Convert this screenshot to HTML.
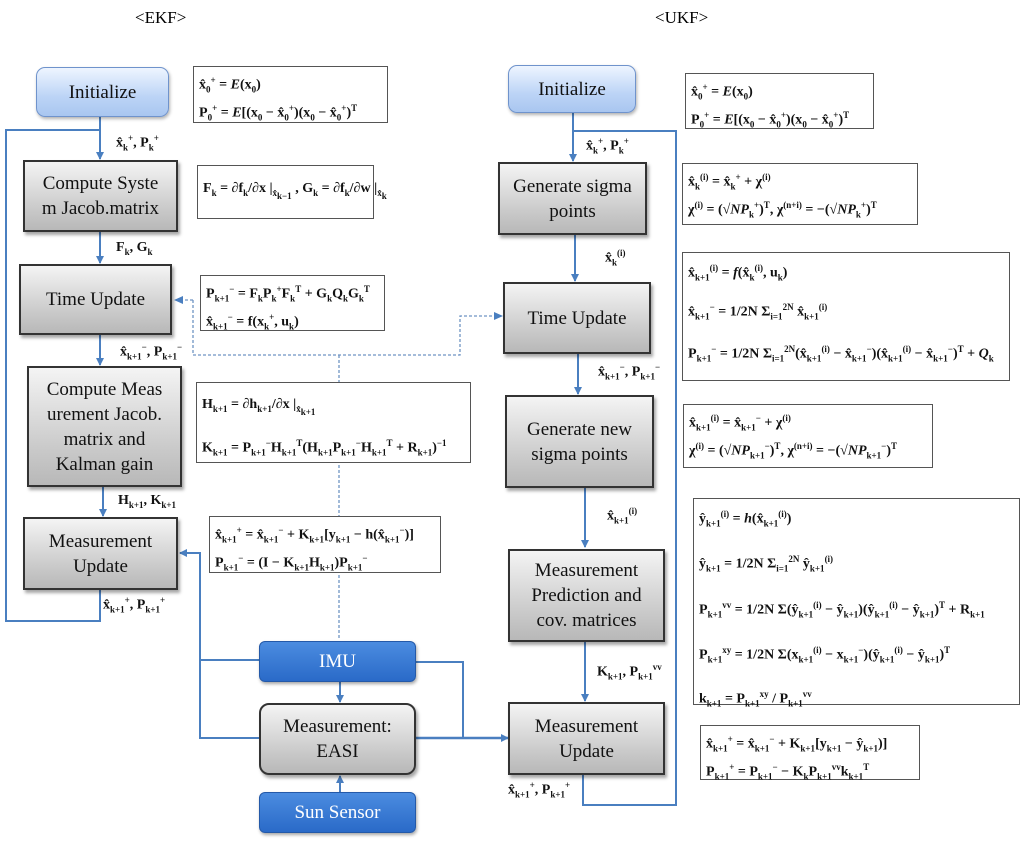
<!DOCTYPE html>
<html><head><meta charset="utf-8"><style>
body{margin:0;background:#fff;width:1024px;height:846px;position:relative;overflow:hidden;font-family:"Liberation Serif",serif;}
.a{position:absolute;}
.box{position:absolute;box-sizing:border-box;display:flex;align-items:center;justify-content:center;text-align:center;font-size:19px;line-height:25px;color:#111;}
.g{background:linear-gradient(#f4f4f4,#c9c9c9 70%,#b8b8b8);border:2px solid #333;box-shadow:2px 3px 3px rgba(0,0,0,.35);}
.lb{background:linear-gradient(#eef5ff,#bcd4f6 60%,#a9c6f0);border:1px solid #6f93cc;border-radius:9px;box-shadow:1px 2px 3px rgba(0,0,0,.3);}
.db{background:linear-gradient(#4b8ce0,#2a6ac8);border:1px solid #2459a8;border-radius:6px;color:#fff;box-shadow:1px 2px 3px rgba(0,0,0,.35);}
.eq{position:absolute;box-sizing:border-box;border:1.5px solid #555;background:#fff;font-weight:bold;font-size:14px;line-height:17px;padding:3px 5px;white-space:nowrap;color:#111;}
.eq div{margin:2px 0;}
.lab{position:absolute;font-weight:bold;font-size:14px;white-space:nowrap;color:#111;}
sub,sup{font-size:9px;}
.hd{position:absolute;font-size:17px;}
</style></head><body>
<div class="hd" style="left:135px;top:8px">&lt;EKF&gt;</div>
<div class="hd" style="left:655px;top:8px">&lt;UKF&gt;</div>

<svg class="a" style="left:0;top:0" width="1024" height="846">
<defs><marker id="ar" markerWidth="8" markerHeight="8" refX="7" refY="4" orient="auto" markerUnits="userSpaceOnUse"><path d="M0,0 L8,4 L0,8 z" fill="#4a7fc0"/></marker></defs>
<g stroke="#4a7fc0" stroke-width="2" fill="none">
<line x1="100" y1="117" x2="100" y2="159" marker-end="url(#ar)"/>
<polyline points="100,130 6,130 6,621 100,621 100,590"/>
<line x1="100" y1="232" x2="100" y2="263" marker-end="url(#ar)"/>
<line x1="100" y1="335" x2="100" y2="365" marker-end="url(#ar)"/>
<line x1="103" y1="487" x2="103" y2="516" marker-end="url(#ar)"/>
<polyline points="260,660 200,660 200,553 180,553" marker-end="url(#ar)"/>
<polyline points="200,660 200,738 260,738"/>
<polyline points="416,662 463,662 463,738"/>
<line x1="416" y1="738" x2="508" y2="738" stroke-width="2.5" marker-end="url(#ar)"/>
<line x1="340" y1="682" x2="340" y2="702" marker-end="url(#ar)"/>
<line x1="340" y1="792" x2="340" y2="776" marker-end="url(#ar)"/>
<line x1="573" y1="113" x2="573" y2="161" marker-end="url(#ar)"/>
<polyline points="573,131 676,131 676,805 583,805 583,775"/>
<line x1="575" y1="235" x2="575" y2="281" marker-end="url(#ar)"/>
<line x1="578" y1="354" x2="578" y2="394" marker-end="url(#ar)"/>
<line x1="585" y1="488" x2="585" y2="547" marker-end="url(#ar)"/>
<line x1="585" y1="642" x2="585" y2="701" marker-end="url(#ar)"/>
</g>
<g stroke="#6f94c4" stroke-width="1.3" fill="none" stroke-dasharray="3,2">
<polyline points="193,300 193,355 460,355 460,316 495,316"/>
<line x1="193" y1="300" x2="182" y2="300"/>
<line x1="339" y1="355" x2="339" y2="640"/>
</g>
<path d="M174,300 L183,296 L183,304 z" fill="#4a7fc0"/>
<path d="M503,316 L494,312 L494,320 z" fill="#4a7fc0"/>
</svg>

<div class="box lb" style="left:36px;top:67px;width:133px;height:50px">Initialize</div>
<div class="box g" style="left:23px;top:160px;width:155px;height:72px">Compute Syste<br>m Jacob.matrix</div>
<div class="box g" style="left:19px;top:264px;width:153px;height:71px">Time Update</div>
<div class="box g" style="left:27px;top:366px;width:155px;height:121px">Compute Meas<br>urement Jacob.<br>matrix and<br>Kalman gain</div>
<div class="box g" style="left:23px;top:517px;width:155px;height:73px">Measurement<br>Update</div>
<div class="box db" style="left:259px;top:641px;width:157px;height:41px">IMU</div>
<div class="box g" style="left:259px;top:703px;width:157px;height:72px;border-radius:10px">Measurement:<br>EASI</div>
<div class="box db" style="left:259px;top:792px;width:157px;height:41px">Sun Sensor</div>

<div class="box lb" style="left:508px;top:65px;width:128px;height:48px">Initialize</div>
<div class="box g" style="left:498px;top:162px;width:149px;height:73px">Generate sigma<br>points</div>
<div class="box g" style="left:503px;top:282px;width:148px;height:72px">Time Update</div>
<div class="box g" style="left:505px;top:395px;width:149px;height:93px">Generate new<br>sigma points</div>
<div class="box g" style="left:508px;top:549px;width:157px;height:93px">Measurement<br>Prediction and<br>cov. matrices</div>
<div class="box g" style="left:508px;top:702px;width:157px;height:73px">Measurement<br>Update</div>

<div class="lab" style="left:116px;top:133px">x̂<sub>k</sub><sup>+</sup>, P<sub>k</sub><sup>+</sup></div>
<div class="lab" style="left:116px;top:240px">F<sub>k</sub>, G<sub>k</sub></div>
<div class="lab" style="left:120px;top:342px">x̂<sub>k+1</sub><sup>−</sup>, P<sub>k+1</sub><sup>−</sup></div>
<div class="lab" style="left:118px;top:493px">H<sub>k+1</sub>, K<sub>k+1</sub></div>
<div class="lab" style="left:103px;top:595px">x̂<sub>k+1</sub><sup>+</sup>, P<sub>k+1</sub><sup>+</sup></div>
<div class="lab" style="left:586px;top:136px">x̂<sub>k</sub><sup>+</sup>, P<sub>k</sub><sup>+</sup></div>
<div class="lab" style="left:605px;top:248px">x̂<sub>k</sub><sup>(i)</sup></div>
<div class="lab" style="left:598px;top:362px">x̂<sub>k+1</sub><sup>−</sup>, P<sub>k+1</sub><sup>−</sup></div>
<div class="lab" style="left:607px;top:506px">x̂<sub>k+1</sub><sup>(i)</sup></div>
<div class="lab" style="left:597px;top:662px">K<sub>k+1</sub>, P<sub>k+1</sub><sup>vv</sup></div>
<div class="lab" style="left:508px;top:780px">x̂<sub>k+1</sub><sup>+</sup>, P<sub>k+1</sub><sup>+</sup></div>

<div class="eq" style="left:193px;top:66px;width:195px;height:57px"><div>x̂<sub>0</sub><sup>+</sup> = <i>E</i>(x<sub>0</sub>)</div><div>P<sub>0</sub><sup>+</sup> = <i>E</i>[(x<sub>0</sub> − x̂<sub>0</sub><sup>+</sup>)(x<sub>0</sub> − x̂<sub>0</sub><sup>+</sup>)<sup>T</sup></div></div>
<div class="eq" style="left:197px;top:165px;width:177px;height:54px;padding-top:14px">F<sub>k</sub> = ∂f<sub>k</sub>/∂x |<sub>x̂<sub>k−1</sub></sub> , G<sub>k</sub> = ∂f<sub>k</sub>/∂w |<sub>x̂<sub>k</sub></sub></div>
<div class="eq" style="left:200px;top:275px;width:185px;height:56px"><div>P<sub>k+1</sub><sup>−</sup> = F<sub>k</sub>P<sub>k</sub><sup>+</sup>F<sub>k</sub><sup>T</sup> + G<sub>k</sub>Q<sub>k</sub>G<sub>k</sub><sup>T</sup></div><div>x̂<sub>k+1</sub><sup>−</sup> = f(x<sub>k</sub><sup>+</sup>, u<sub>k</sub>)</div></div>
<div class="eq" style="left:196px;top:382px;width:275px;height:81px"><div style="margin:10px 0 14px">H<sub>k+1</sub> = ∂h<sub>k+1</sub>/∂x |<sub>x̂<sub>k+1</sub></sub></div><div>K<sub>k+1</sub> = P<sub>k+1</sub><sup>−</sup>H<sub>k+1</sub><sup>T</sup>(H<sub>k+1</sub>P<sub>k+1</sub><sup>−</sup>H<sub>k+1</sub><sup>T</sup> + R<sub>k+1</sub>)<sup>−1</sup></div></div>
<div class="eq" style="left:209px;top:516px;width:232px;height:57px"><div>x̂<sub>k+1</sub><sup>+</sup> = x̂<sub>k+1</sub><sup>−</sup> + K<sub>k+1</sub>[y<sub>k+1</sub> − h(x̂<sub>k+1</sub><sup>−</sup>)]</div><div>P<sub>k+1</sub><sup>−</sup> = (I − K<sub>k+1</sub>H<sub>k+1</sub>)P<sub>k+1</sub><sup>−</sup></div></div>

<div class="eq" style="left:685px;top:73px;width:189px;height:56px"><div>x̂<sub>0</sub><sup>+</sup> = <i>E</i>(x<sub>0</sub>)</div><div>P<sub>0</sub><sup>+</sup> = <i>E</i>[(x<sub>0</sub> − x̂<sub>0</sub><sup>+</sup>)(x<sub>0</sub> − x̂<sub>0</sub><sup>+</sup>)<sup>T</sup></div></div>
<div class="eq" style="left:682px;top:163px;width:236px;height:62px"><div>x̂<sub>k</sub><sup>(i)</sup> = x̂<sub>k</sub><sup>+</sup> + χ<sup>(i)</sup></div><div>χ<sup>(i)</sup> = (√<i>NP</i><sub>k</sub><sup>+</sup>)<sup>T</sup>, χ<sup>(n+i)</sup> = −(√<i>NP</i><sub>k</sub><sup>+</sup>)<sup>T</sup></div></div>
<div class="eq" style="left:682px;top:252px;width:328px;height:129px;line-height:20px"><div>x̂<sub>k+1</sub><sup>(i)</sup> = <i>f</i>(x̂<sub>k</sub><sup>(i)</sup>, u<sub>k</sub>)</div><div style="margin-top:10px">x̂<sub>k+1</sub><sup>−</sup> = 1/2N Σ<sub>i=1</sub><sup>2N</sup> x̂<sub>k+1</sub><sup>(i)</sup></div><div style="margin-top:12px">P<sub>k+1</sub><sup>−</sup> = 1/2N Σ<sub>i=1</sub><sup>2N</sup>(x̂<sub>k+1</sub><sup>(i)</sup> − x̂<sub>k+1</sub><sup>−</sup>)(x̂<sub>k+1</sub><sup>(i)</sup> − x̂<sub>k+1</sub><sup>−</sup>)<sup>T</sup> + <i>Q</i><sub>k</sub></div></div>
<div class="eq" style="left:683px;top:404px;width:250px;height:64px"><div>x̂<sub>k+1</sub><sup>(i)</sup> = x̂<sub>k+1</sub><sup>−</sup> + χ<sup>(i)</sup></div><div>χ<sup>(i)</sup> = (√<i>NP</i><sub>k+1</sub><sup>−</sup>)<sup>T</sup>, χ<sup>(n+i)</sup> = −(√<i>NP</i><sub>k+1</sub><sup>−</sup>)<sup>T</sup></div></div>
<div class="eq" style="left:693px;top:498px;width:327px;height:207px;line-height:20px"><div>ŷ<sub>k+1</sub><sup>(i)</sup> = <i>h</i>(x̂<sub>k+1</sub><sup>(i)</sup>)</div><div style="margin-top:16px">ŷ<sub>k+1</sub> = 1/2N Σ<sub>i=1</sub><sup>2N</sup> ŷ<sub>k+1</sub><sup>(i)</sup></div><div style="margin-top:16px">P<sub>k+1</sub><sup>vv</sup> = 1/2N Σ(ŷ<sub>k+1</sub><sup>(i)</sup> − ŷ<sub>k+1</sub>)(ŷ<sub>k+1</sub><sup>(i)</sup> − ŷ<sub>k+1</sub>)<sup>T</sup> + R<sub>k+1</sub></div><div style="margin-top:16px">P<sub>k+1</sub><sup>xy</sup> = 1/2N Σ(x<sub>k+1</sub><sup>(i)</sup> − x<sub>k+1</sub><sup>−</sup>)(ŷ<sub>k+1</sub><sup>(i)</sup> − ŷ<sub>k+1</sub>)<sup>T</sup></div><div style="margin-top:14px">k<sub>k+1</sub> = P<sub>k+1</sub><sup>xy</sup> / P<sub>k+1</sub><sup>vv</sup></div></div>
<div class="eq" style="left:700px;top:725px;width:220px;height:55px"><div>x̂<sub>k+1</sub><sup>+</sup> = x̂<sub>k+1</sub><sup>−</sup> + K<sub>k+1</sub>[y<sub>k+1</sub> − ŷ<sub>k+1</sub>)]</div><div>P<sub>k+1</sub><sup>+</sup> = P<sub>k+1</sub><sup>−</sup> − K<sub>k</sub>P<sub>k+1</sub><sup>vv</sup>k<sub>k+1</sub><sup>T</sup></div></div>
</body></html>
